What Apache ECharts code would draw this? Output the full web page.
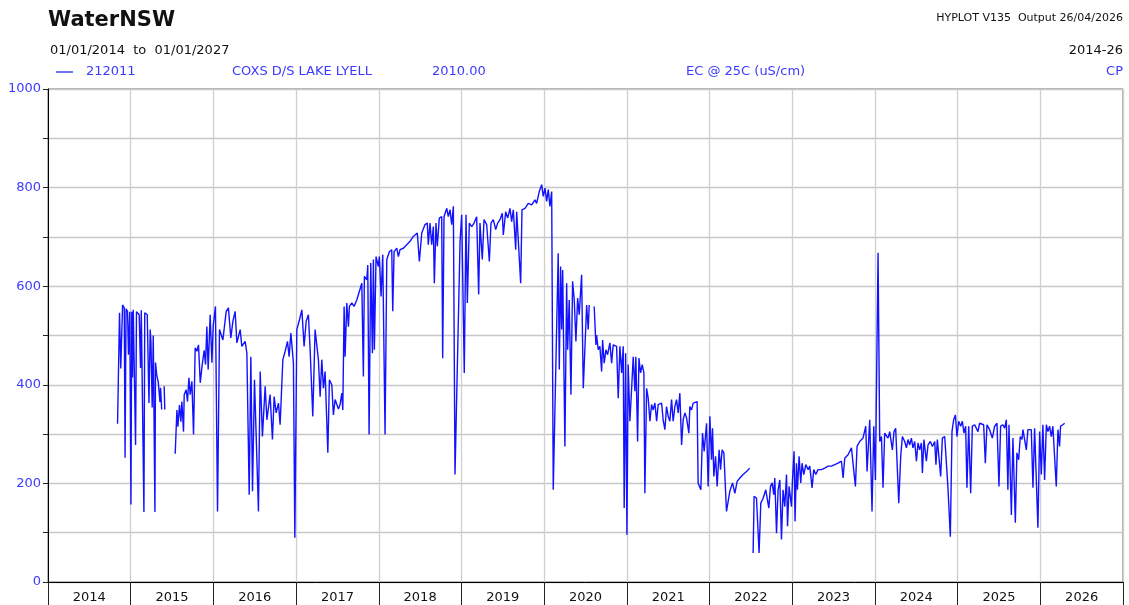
<!DOCTYPE html>
<html>
<head>
<meta charset="utf-8">
<title>WaterNSW 212011 EC</title>
<script src="https://cdn.jsdelivr.net/npm/echarts@6/dist/echarts.min.js"></script>
<style>
  html, body { margin: 0; padding: 0; background: #fff; }
  #chart { width: 1129px; height: 605px; }
</style>
</head>
<body>
<div id="chart"></div>
<script>
// year labels along the bottom band (one per calendar year)
const years = ['2014', '2015', '2016', '2017', '2018', '2019', '2020', '2021', '2022', '2023', '2024', '2025', '2026'];
const yLabelValues = [0, 200, 400, 600, 800, 1000];

// EC @ 25C (uS/cm), [decimal year, value]; separate arrays where the record has gaps
const segLate2014 = [
  [2014.841, 321], [2014.865, 546], [2014.880, 433], [2014.902, 562], [2014.922, 556], [2014.932, 252],
  [2014.944, 554], [2014.962, 549], [2014.973, 461], [2014.989, 548], [2015.003, 157], [2015.013, 548],
  [2015.022, 415], [2015.031, 552], [2015.059, 278], [2015.070, 548], [2015.103, 542], [2015.119, 434],
  [2015.128, 551], [2015.160, 142], [2015.170, 546], [2015.200, 542], [2015.221, 363], [2015.236, 512],
  [2015.245, 487], [2015.260, 354], [2015.273, 500], [2015.293, 142], [2015.300, 445], [2015.315, 420],
  [2015.333, 406], [2015.354, 365], [2015.361, 394], [2015.375, 350]
];
const segMid2015 = [[2015.405, 397], [2015.412, 350]];

const seg2015to2020 = [
  [2015.538, 260], [2015.559, 349], [2015.571, 315], [2015.590, 359], [2015.607, 325], [2015.619, 366],
  [2015.639, 305], [2015.647, 380], [2015.671, 390], [2015.687, 366], [2015.704, 414], [2015.720, 380],
  [2015.740, 407], [2015.760, 299], [2015.780, 475], [2015.801, 468], [2015.820, 481], [2015.841, 404],
  [2015.865, 441], [2015.889, 470], [2015.905, 441], [2015.921, 518], [2015.937, 431], [2015.961, 542],
  [2015.982, 445], [2015.998, 520], [2016.025, 559], [2016.050, 143], [2016.074, 512], [2016.115, 491],
  [2016.155, 549], [2016.182, 556], [2016.211, 495], [2016.236, 529], [2016.263, 549], [2016.284, 485],
  [2016.324, 512], [2016.344, 478], [2016.384, 488], [2016.405, 464], [2016.433, 177], [2016.453, 457],
  [2016.473, 184], [2016.497, 410], [2016.517, 299], [2016.545, 143], [2016.566, 427], [2016.593, 295],
  [2016.626, 397], [2016.647, 329], [2016.686, 380], [2016.714, 289], [2016.735, 376], [2016.759, 343],
  [2016.787, 363], [2016.807, 319], [2016.840, 451], [2016.868, 468], [2016.896, 488], [2016.916, 457],
  [2016.937, 505], [2016.968, 444], [2016.985, 90], [2017.009, 512], [2017.041, 532], [2017.070, 552],
  [2017.097, 478], [2017.122, 529], [2017.149, 542], [2017.170, 471], [2017.202, 336], [2017.230, 512],
  [2017.270, 451], [2017.291, 376], [2017.311, 451], [2017.331, 393], [2017.351, 427], [2017.384, 262],
  [2017.403, 410], [2017.432, 400], [2017.451, 339], [2017.472, 370], [2017.512, 351], [2017.532, 360],
  [2017.553, 383], [2017.565, 349], [2017.581, 559], [2017.593, 457], [2017.613, 566], [2017.633, 518],
  [2017.645, 559], [2017.674, 566], [2017.701, 559], [2017.734, 572], [2017.795, 606], [2017.814, 417],
  [2017.826, 620], [2017.855, 613], [2017.867, 643], [2017.883, 299], [2017.903, 647], [2017.923, 464],
  [2017.935, 654], [2017.947, 471], [2017.967, 660], [2017.995, 640], [2018.007, 660], [2018.028, 579],
  [2018.048, 664], [2018.076, 299], [2018.097, 654], [2018.128, 670], [2018.157, 674], [2018.169, 549],
  [2018.185, 670], [2018.218, 677], [2018.237, 660], [2018.257, 674], [2018.297, 677], [2018.338, 684],
  [2018.378, 691], [2018.418, 701], [2018.466, 708], [2018.491, 650], [2018.520, 708], [2018.559, 725],
  [2018.587, 728], [2018.599, 684], [2018.620, 728], [2018.640, 684], [2018.660, 721], [2018.672, 606],
  [2018.692, 728], [2018.708, 681], [2018.732, 738], [2018.761, 741], [2018.773, 454], [2018.789, 741],
  [2018.822, 758], [2018.841, 741], [2018.862, 755], [2018.882, 725], [2018.902, 762], [2018.922, 218],
  [2018.983, 691], [2019.003, 745], [2019.022, 741], [2019.034, 424], [2019.055, 745], [2019.071, 566],
  [2019.095, 728], [2019.124, 721], [2019.152, 728], [2019.184, 741], [2019.208, 583], [2019.224, 728],
  [2019.252, 654], [2019.273, 735], [2019.305, 725], [2019.337, 650], [2019.357, 728], [2019.385, 735],
  [2019.414, 715], [2019.438, 728], [2019.466, 735], [2019.494, 748], [2019.506, 704], [2019.535, 751],
  [2019.559, 738], [2019.587, 758], [2019.607, 731], [2019.627, 755], [2019.656, 674], [2019.668, 751],
  [2019.687, 755], [2019.716, 606], [2019.732, 755], [2019.768, 758], [2019.808, 768], [2019.849, 765],
  [2019.889, 775], [2019.909, 768], [2019.941, 792], [2019.970, 806], [2019.989, 782], [2020.010, 799],
  [2020.030, 772], [2020.050, 796], [2020.070, 762], [2020.091, 792], [2020.110, 187], [2020.170, 667],
  [2020.183, 431], [2020.199, 640], [2020.212, 512], [2020.224, 633], [2020.251, 275], [2020.272, 606],
  [2020.284, 471], [2020.303, 572], [2020.324, 380], [2020.344, 610], [2020.364, 572], [2020.384, 488],
  [2020.405, 576], [2020.424, 542], [2020.453, 623], [2020.473, 393], [2020.514, 562], [2020.533, 512],
  [2020.545, 562]
];

const seg2020to2022 = [
  [2020.605, 559], [2020.626, 481], [2020.634, 501], [2020.654, 471], [2020.674, 478], [2020.695, 427],
  [2020.707, 491], [2020.726, 444], [2020.747, 471], [2020.767, 461], [2020.795, 485], [2020.816, 444],
  [2020.835, 481], [2020.876, 478], [2020.896, 373], [2020.916, 478], [2020.937, 424], [2020.956, 478],
  [2020.968, 150], [2020.985, 464], [2021.001, 96], [2021.016, 441], [2021.037, 326], [2021.057, 390],
  [2021.077, 457], [2021.097, 387], [2021.109, 457], [2021.130, 285], [2021.146, 454], [2021.166, 424],
  [2021.186, 441], [2021.206, 424], [2021.218, 180], [2021.239, 393], [2021.258, 373], [2021.279, 326],
  [2021.299, 360], [2021.318, 349], [2021.339, 363], [2021.360, 326], [2021.379, 360], [2021.399, 356],
  [2021.420, 363], [2021.439, 329], [2021.460, 309], [2021.480, 356], [2021.500, 336], [2021.520, 326],
  [2021.541, 370], [2021.560, 326], [2021.581, 356], [2021.601, 370], [2021.621, 343], [2021.641, 383],
  [2021.662, 278], [2021.681, 329], [2021.702, 343], [2021.722, 333], [2021.750, 302], [2021.762, 356],
  [2021.782, 349], [2021.802, 363], [2021.850, 366], [2021.862, 201], [2021.895, 187], [2021.915, 302],
  [2021.935, 265], [2021.964, 322], [2021.983, 194], [2022.004, 336], [2022.024, 248], [2022.036, 312],
  [2022.052, 214], [2022.073, 255], [2022.092, 194], [2022.116, 268], [2022.133, 228], [2022.152, 268],
  [2022.173, 262], [2022.205, 143], [2022.245, 184], [2022.278, 201], [2022.306, 180], [2022.334, 204],
  [2022.366, 211], [2022.406, 218], [2022.447, 224], [2022.487, 231]
];

const seg2022to2026 = [
  [2022.527, 59], [2022.539, 174], [2022.568, 170], [2022.599, 59], [2022.620, 160], [2022.648, 170],
  [2022.680, 187], [2022.701, 191], [2022.717, 150], [2022.737, 194], [2022.757, 201], [2022.777, 177],
  [2022.789, 211], [2022.810, 99], [2022.829, 187], [2022.850, 207], [2022.870, 86], [2022.889, 187],
  [2022.910, 153], [2022.931, 218], [2022.943, 113], [2022.962, 194], [2022.991, 153], [2023.003, 207],
  [2023.022, 265], [2023.034, 123], [2023.051, 241], [2023.063, 187], [2023.083, 255], [2023.103, 201],
  [2023.119, 241], [2023.140, 218], [2023.164, 238], [2023.192, 228], [2023.212, 235], [2023.240, 191],
  [2023.260, 228], [2023.285, 218], [2023.312, 228], [2023.353, 228], [2023.393, 231], [2023.433, 235],
  [2023.474, 235], [2023.514, 238], [2023.554, 241], [2023.595, 245], [2023.615, 211], [2023.635, 251],
  [2023.675, 258], [2023.716, 272], [2023.735, 268], [2023.764, 194], [2023.784, 275], [2023.816, 285],
  [2023.856, 292], [2023.889, 316], [2023.905, 224], [2023.937, 329], [2023.965, 143], [2023.986, 316],
  [2024.006, 207], [2024.038, 668], [2024.058, 285], [2024.079, 295], [2024.098, 191], [2024.118, 302],
  [2024.139, 305], [2024.158, 292], [2024.179, 305], [2024.211, 268], [2024.231, 305], [2024.251, 312],
  [2024.288, 160], [2024.312, 255], [2024.332, 295], [2024.360, 285], [2024.381, 272], [2024.400, 289],
  [2024.421, 278], [2024.441, 292], [2024.460, 272], [2024.481, 285], [2024.502, 245], [2024.521, 282],
  [2024.541, 268], [2024.562, 282], [2024.574, 221], [2024.593, 289], [2024.622, 245], [2024.642, 278],
  [2024.671, 285], [2024.695, 275], [2024.723, 285], [2024.738, 238], [2024.755, 289], [2024.775, 292],
  [2024.795, 214], [2024.816, 292], [2024.844, 295], [2024.864, 299], [2024.883, 191], [2024.912, 92],
  [2024.932, 305], [2024.952, 329], [2024.973, 339], [2024.992, 295], [2025.013, 326], [2025.037, 316],
  [2025.057, 326], [2025.077, 302], [2025.097, 316], [2025.113, 191], [2025.134, 316], [2025.158, 180],
  [2025.178, 316], [2025.206, 319], [2025.227, 322], [2025.246, 305], [2025.266, 322], [2025.315, 319],
  [2025.335, 241], [2025.355, 319], [2025.387, 309], [2025.420, 292], [2025.448, 316], [2025.476, 322],
  [2025.500, 194], [2025.520, 316], [2025.548, 319], [2025.569, 312], [2025.589, 329], [2025.608, 187],
  [2025.621, 319], [2025.650, 136], [2025.669, 292], [2025.698, 120], [2025.717, 262], [2025.738, 248],
  [2025.758, 295], [2025.778, 289], [2025.790, 309], [2025.810, 312], [2025.831, 268], [2025.850, 309],
  [2025.871, 312], [2025.891, 309], [2025.911, 191], [2025.931, 312], [2025.952, 316], [2025.971, 110],
  [2025.992, 305], [2026.012, 218], [2026.031, 319], [2026.052, 207], [2026.073, 319], [2026.092, 305],
  [2026.112, 316], [2026.133, 295], [2026.152, 316], [2026.193, 194], [2026.213, 309], [2026.233, 275],
  [2026.245, 316], [2026.273, 319], [2026.294, 322]
];

const segments = [segLate2014, segMid2015, seg2015to2020, seg2020to2022, seg2022to2026];

const FONT = '"DejaVu Sans", "Liberation Sans", sans-serif';
const BLUE_TEXT = '#3b3bff';
const LINE_BLUE = '#1212ff';

const chart = echarts.init(document.getElementById('chart'), null, { renderer: 'canvas' });

const headerText = (text, x, y, opts = {}) => ({
  type: 'text',
  x: x,
  y: y,
  silent: true,
  style: {
    text: text,
    font: (opts.bold ? 'bold ' : '') + (opts.size || 13) + 'px ' + FONT,
    fill: opts.color || '#111',
    textAlign: opts.align || 'left',
    textVerticalAlign: 'middle'
  }
});

chart.setOption({
  animation: false,
  backgroundColor: '#fff',
  grid: {
    left: 48,
    right: 6,
    top: 89,
    bottom: 23,
    show: true,
    borderColor: '#666',
    borderWidth: 1
  },
  graphic: [
    headerText('WaterNSW', 48, 21, { bold: true, size: 21 }),
    headerText('01/01/2014  to  01/01/2027', 50, 51, { size: 13 }),
    headerText('HYPLOT V135  Output 26/04/2026', 1123, 18, { size: 11, align: 'right' }),
    headerText('2014-26', 1123, 51, { size: 13, align: 'right' }),
    {
      type: 'line',
      silent: true,
      shape: { x1: 56, y1: 72, x2: 73, y2: 72 },
      style: { stroke: LINE_BLUE, lineWidth: 1.2 }
    },
    headerText('212011', 86, 72, { color: BLUE_TEXT }),
    headerText('COXS D/S LAKE LYELL', 232, 72, { color: BLUE_TEXT }),
    headerText('2010.00', 432, 72, { color: BLUE_TEXT }),
    headerText('EC @ 25C (uS/cm)', 686, 72, { color: BLUE_TEXT }),
    headerText('CP', 1123, 72, { color: BLUE_TEXT, align: 'right' })
  ],
  xAxis: [
    {
      type: 'value',
      min: 2014,
      max: 2027,
      show: false
    },
    {
      type: 'category',
      data: years,
      boundaryGap: true,
      position: 'bottom',
      axisLine: { show: true, lineStyle: { color: '#000', width: 1 } },
      axisTick: { show: true, interval: 0, length: 23, lineStyle: { color: '#222' } },
      axisLabel: { interval: 0, margin: 9, color: '#111', fontSize: 13, fontFamily: FONT },
      splitLine: { show: true, interval: 0, lineStyle: { color: '#cfcfcf', width: 1.3 } }
    }
  ],
  yAxis: {
    type: 'value',
    min: 0,
    max: 1000,
    interval: 100,
    axisLine: { show: true, lineStyle: { color: '#000', width: 1 } },
    axisTick: { show: true, length: 5, lineStyle: { color: '#222' } },
    axisLabel: {
      margin: 7,
      color: BLUE_TEXT,
      fontSize: 13,
      fontFamily: FONT,
      formatter: v => (yLabelValues.includes(v) ? String(v) : '')
    },
    splitLine: { show: true, lineStyle: { color: '#c8c8c8', width: 1.3 } }
  },
  series: segments.map(seg => ({
    type: 'line',
    xAxisIndex: 0,
    data: seg,
    showSymbol: false,
    symbol: 'none',
    lineStyle: { color: LINE_BLUE, width: 1.4 },
    emphasis: { disabled: true }
  }))
});

window.addEventListener('resize', () => chart.resize());
</script>
</body>
</html>
